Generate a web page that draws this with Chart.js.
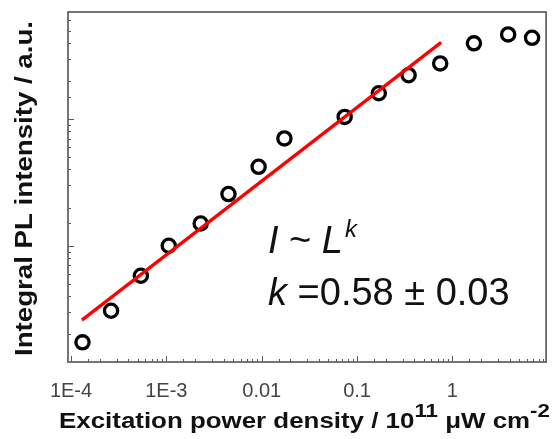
<!DOCTYPE html>
<html><head><meta charset="utf-8">
<script src="https://cdn.jsdelivr.net/npm/chart.js@4/dist/chart.umd.min.js"></script>
<style>html,body{margin:0;padding:0;background:#fff}</style>
</head><body><canvas id="c" width="556" height="439"></canvas>
<script>
// ---- data ----
const excitation = [1.32e-4, 2.63e-4, 5.40e-4, 1.06e-3, 2.29e-3, 4.48e-3, 9.28e-3, 0.0173, 0.0741, 0.169, 0.347, 0.744, 1.68, 3.84, 6.84];
const intensity  = [0.173, 0.307, 0.580, 1.00, 1.50, 2.56, 4.20, 7.04, 10.4, 16.0, 22.2, 27.5, 39.6, 46.6, 43.8];
const fitX = [1.30e-4, 0.762];
const fitY = [0.259, 40.3];
const xTickValues = [1e-4, 1e-3, 0.01, 0.1, 1];
const xTickLabels = ['1E-4', '1E-3', '0.01', '0.1', '1'];
const xTitleParts = ['Excitation power density / 10', '11', ' \u03BCW cm', '-2'];
const yTitle = 'Integral PL intensity / a.u.';
const exponentText = '0.58';
const errorText = '0.03';

const isDecade = v => Math.abs(Math.log10(v) - Math.round(Math.log10(v))) < 1e-6;

const decor = {
  id: 'decor',
  afterDraw(chart) {
    const ctx = chart.ctx, a = chart.chartArea;
    ctx.save();
    // inner tick marks
    ctx.strokeStyle = '#555'; ctx.lineWidth = 1;
    const xs = chart.scales.x, ys = chart.scales.y;
    xs.ticks.forEach(t => {
      if (t.value <= xs.min * 1.0001 || t.value >= xs.max * 0.9999) return;
      const px = Math.round(xs.getPixelForValue(t.value)) + 0.5;
      const len = isDecade(t.value) ? 6 : 3;
      ctx.beginPath(); ctx.moveTo(px, a.bottom); ctx.lineTo(px, a.bottom - len); ctx.stroke();
    });
    ys.ticks.forEach(t => {
      if (t.value <= ys.min * 1.0001 || t.value >= ys.max * 0.9999) return;
      const py = Math.round(ys.getPixelForValue(t.value)) + 0.5;
      const len = isDecade(t.value) ? 6 : 3;
      ctx.beginPath(); ctx.moveTo(a.left, py); ctx.lineTo(a.left + len, py); ctx.stroke();
    });
    // frame
    ctx.strokeStyle = '#666'; ctx.lineWidth = 1.8;
    ctx.strokeRect(a.left, a.top, a.right - a.left, a.bottom - a.top);

    // x title (bold, with superscripts)
    ctx.fillStyle = '#111';
    ctx.textBaseline = 'alphabetic';
    const big = 'bold 22px "Liberation Sans", Arial, sans-serif';
    const sup = 'bold 19px "Liberation Sans", Arial, sans-serif';
    const fonts = [big, sup, big, sup];
    const dy = [0, -11, 0, -11];
    let total = 0;
    const widths = xTitleParts.map((s, i) => { ctx.font = fonts[i]; const w = ctx.measureText(s).width; total += w; return w; });
    const xStart = 59, xEnd = 550, base = 428;
    const sx = (xEnd - xStart) / total;
    ctx.save();
    ctx.translate(xStart, base); ctx.scale(sx, 1);
    let cx = 0;
    xTitleParts.forEach((s, i) => { ctx.font = fonts[i]; ctx.fillText(s, cx, dy[i]); cx += widths[i]; });
    ctx.restore();

    // y title (rotated)
    ctx.save();
    ctx.font = 'bold 23px "Liberation Sans", Arial, sans-serif';
    const yw = ctx.measureText(yTitle).width;
    const yTop = 21, yBot = 356;
    ctx.translate(32, yBot); ctx.rotate(-Math.PI / 2);
    ctx.scale((yBot - yTop) / yw, 1);
    ctx.textAlign = 'left';
    ctx.fillText(yTitle, 0, 0);
    ctx.restore();

    // annotation
    ctx.fillStyle = '#111';
    const fam = '"Liberation Sans", Arial, sans-serif';
    const segs1 = [
      ['I', 'italic 38px ' + fam, 0],
      [' ~ ', '38px ' + fam, 0],
      ['L', 'italic 38px ' + fam, 0],
      ['k', 'italic 24px ' + fam, -16]
    ];
    let x1 = 268;
    segs1.forEach(([s, f, d]) => { ctx.font = f; ctx.fillText(s, x1, 253 + d); x1 += ctx.measureText(s).width + (s === 'L' ? 2 : 0); });
    const segs2 = [
      ['k', 'italic 38px ' + fam],
      [' =', '38px ' + fam],
      [exponentText + ' ', '38px ' + fam],
      ['\u00B1', '38px ' + fam],
      [' ' + errorText, '38px ' + fam]
    ];
    let x2 = 268;
    segs2.forEach(([s, f]) => { ctx.font = f; ctx.fillText(s, x2, 305); x2 += ctx.measureText(s).width; });
    ctx.restore();
  }
};

new Chart(document.getElementById('c'), {
  type: 'scatter',
  data: {
    datasets: [
      {
        label: 'fit',
        data: fitX.map((x, i) => ({x, y: fitY[i]})),
        showLine: true,
        borderColor: '#ff0000',
        borderWidth: 3.2,
        pointRadius: 0,
        order: 0
      },
      {
        label: 'PL',
        data: excitation.map((x, i) => ({x, y: intensity[i]})),
        showLine: false,
        pointStyle: 'circle',
        pointRadius: 6.6,
        pointBorderWidth: 3.3,
        borderColor: '#000',
        backgroundColor: 'rgba(0,0,0,0)',
        pointBackgroundColor: 'rgba(0,0,0,0)',
        pointBorderColor: '#000',
        order: 1
      }
    ]
  },
  options: {
    responsive: false,
    devicePixelRatio: 1,
    animation: false,
    layout: { padding: { left: 68, right: 8, top: 12, bottom: 0 } },
    plugins: { legend: { display: false }, tooltip: { enabled: false } },
    scales: {
      x: {
        type: 'logarithmic',
        min: 9.3e-5, max: 9.6,
        grid: { display: false },
        border: { display: false },
        ticks: {
          autoSkip: false, maxRotation: 0, padding: 9,
          color: '#444',
          font: { family: '"Liberation Sans", Arial, sans-serif', size: 20 },
          callback: (v) => {
            const i = xTickValues.findIndex(t => Math.abs(Math.log10(t) - Math.log10(v)) < 1e-6);
            return i >= 0 ? xTickLabels[i] : '';
          }
        },
        afterFit: s => { s.height = 77; }
      },
      y: {
        type: 'logarithmic',
        min: 0.121, max: 70,
        grid: { display: false },
        border: { display: false },
        ticks: { display: false },
        afterFit: s => { s.width = 0; }
      }
    }
  },
  plugins: [decor]
});
</script>
</body></html>
